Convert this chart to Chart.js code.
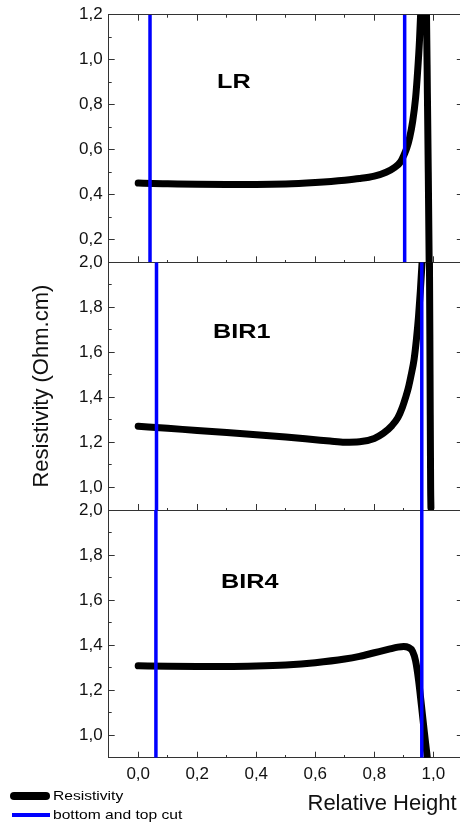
<!DOCTYPE html>
<html>
<head>
<meta charset="utf-8">
<script src="https://cdn.jsdelivr.net/npm/chart.js@4.4.0/dist/chart.umd.min.js"></script>
<style>
  html, body { margin: 0; padding: 0; background: #fff; overflow: hidden; width: 460px; height: 825px; }
  canvas.c { position: absolute; left: 0; top: 0; }
  .panel-label { position: absolute; font: bold 21px "Liberation Sans", Arial, sans-serif; line-height: 1; color: #000; transform: scaleX(1.2); transform-origin: left top; white-space: nowrap; }
  .leg-line { position: absolute; }
  .leg-text { position: absolute; font: 13px "Liberation Sans", Arial, sans-serif; line-height: 16px; color: #000; transform: scaleX(1.2); transform-origin: left center; white-space: nowrap; }
</style>
</head>
<body>
<canvas id="c0" class="c" width="470" height="825"></canvas>
<canvas id="c1" class="c" width="470" height="825"></canvas>
<canvas id="c2" class="c" width="470" height="825"></canvas>
<script>
// ---------------- data ----------------
const seriesNames = ['Resistivity', 'bottom and top cut'];
const panelNames = ['LR', 'BIR1', 'BIR4'];
const xTitle = 'Relative Height';
const yTitle = 'Resistivity (Ohm.cm)';
const xAxisMin = -0.1, xAxisMax = 1.1;
const yAxisMin = [0.1, 0.9, 0.9];
const yAxisMax = [1.2, 2.0, 2.0];
const tickStep = 0.1;

const lrHeight = [0, 0.05, 0.1, 0.2, 0.3, 0.4, 0.5, 0.6, 0.7, 0.75, 0.8, 0.84, 0.87, 0.89, 0.9, 0.91, 0.92, 0.93, 0.94, 0.947, 0.953, 0.957, 0.962, 0.967, 0.972, 0.977, 0.98, 0.983, 0.986, 0.988];
const lrRes    = [0.452, 0.450, 0.449, 0.447, 0.446, 0.446, 0.448, 0.455, 0.465, 0.472, 0.483, 0.500, 0.522, 0.548, 0.575, 0.607, 0.655, 0.725, 0.83, 0.95, 1.08, 1.2, 1.32, 1.40, 1.35, 1.2, 0.85, 0.5, 0.1, -0.2];

const bir1Height = [0, 0.1, 0.2, 0.3, 0.4, 0.5, 0.6, 0.65, 0.7, 0.75, 0.8, 0.83, 0.86, 0.88, 0.895, 0.905, 0.915, 0.925, 0.935, 0.943, 0.95, 0.956, 0.962, 0.968, 0.975, 0.981, 0.985, 0.987, 0.989, 0.991, 0.992];
const bir1Res    = [1.272, 1.263, 1.253, 1.244, 1.234, 1.224, 1.212, 1.206, 1.201, 1.203, 1.218, 1.24, 1.275, 1.31, 1.355, 1.395, 1.44, 1.50, 1.57, 1.66, 1.76, 1.87, 2.0, 2.15, 2.25, 2.2, 2.1, 2.0, 1.5, 1.0, 0.91];

const bir4Height = [0, 0.1, 0.2, 0.3, 0.4, 0.5, 0.6, 0.7, 0.75, 0.8, 0.85, 0.88, 0.9, 0.915, 0.93, 0.94, 0.95, 0.96, 0.97, 0.978, 0.984];
const bir4Res    = [1.308, 1.306, 1.305, 1.305, 1.307, 1.312, 1.322, 1.338, 1.350, 1.366, 1.382, 1.391, 1.394, 1.390, 1.372, 1.33, 1.245, 1.13, 1.01, 0.92, 0.85];

const cutBottom = [0.04, 0.062, 0.06];
const cutTop    = [0.903, 0.961, 0.961];

const curveHeights = [lrHeight, bir1Height, bir4Height];
const curveValues  = [lrRes, bir1Res, bir4Res];

// ---------------- layout / style ----------------
const W = 470, H = 825;
const plotLeft = 108.7, plotRight = 462.8;
const areaTop = [14.7, 262.3, 510];
const areaBottom = [262.3, 510, 757.7];
const FONT = '"Liberation Sans", Arial, sans-serif';
const AXIS_COLOR = '#333';
const BLUE = '#0000ff';

function isMinor(v) { return Math.abs(Math.round(v * 10)) % 2 === 1; }
function fmt(v) { return v.toFixed(1).replace('.', ','); }
function noPad(s) { s.paddingTop = 0; s.paddingBottom = 0; s.paddingLeft = 0; s.paddingRight = 0; }

function gridFor(startsInside) {
  return {
    display: true,
    drawOnChartArea: false,
    drawTicks: true,
    tickLength: -6,
    tickWidth: 1,
    tickColor: AXIS_COLOR,
    tickBorderDash: ctx => (ctx.tick && isMinor(ctx.tick.value)) ? [3, 100] : [],
    tickBorderDashOffset: ctx => (ctx.tick && isMinor(ctx.tick.value) && startsInside) ? 100 : 0
  };
}
const border = { display: true, color: AXIS_COLOR, width: 1 };

function makeChart(i) {
  const curve = curveHeights[i].map((x, k) => ({ x: x, y: curveValues[i][k] }));
  const scales = {
    x: {
      type: 'linear', position: 'bottom', min: xAxisMin, max: xAxisMax,
      ticks: {
        stepSize: tickStep, autoSkip: false, maxRotation: 0, minRotation: 0,
        display: i === 2, padding: 12, color: '#111',
        font: { family: FONT, size: 17 },
        callback: v => isMinor(v) ? '' : fmt(v)
      },
      grid: gridFor(false),
      border: border,
      title: {
        display: i === 2, text: xTitle + ' ', align: 'end', color: '#111',
        font: { family: FONT, size: 22 }, padding: { top: 0, bottom: 8 }
      },
      afterFit: s => { s.height = (i === 2) ? (H - areaBottom[2]) : 0; noPad(s); }
    },
    y: {
      type: 'linear', position: 'left', min: yAxisMin[i], max: yAxisMax[i],
      ticks: {
        stepSize: tickStep, autoSkip: false, padding: 12, color: '#111',
        font: { family: FONT, size: 17 },
        callback: v => isMinor(v) ? '' : fmt(v)
      },
      grid: gridFor(true),
      border: border,
      title: {
        display: i === 1, text: yTitle, color: '#111',
        font: { family: FONT, size: 22 }, padding: { top: 28.8, bottom: 0 }
      },
      afterFit: s => { s.width = plotLeft; noPad(s); }
    },
    y2: {
      type: 'linear', position: 'right', min: yAxisMin[i], max: yAxisMax[i],
      ticks: { stepSize: tickStep, display: false },
      grid: gridFor(false),
      border: border,
      afterFit: s => { s.width = 0; noPad(s); }
    }
  };
  if (i === 0) {
    scales.x2 = {
      type: 'linear', position: 'top', min: xAxisMin, max: xAxisMax,
      ticks: { stepSize: tickStep, display: false },
      grid: gridFor(true),
      border: border,
      afterFit: s => { s.height = 0; noPad(s); }
    };
  }
  return new Chart(document.getElementById('c' + i), {
    type: 'line',
    data: {
      datasets: [
        {
          label: seriesNames[1],
          data: [{ x: cutBottom[i], y: yAxisMin[i] }, { x: cutBottom[i], y: yAxisMax[i] }],
          borderColor: BLUE, borderWidth: 3.5, tension: 0, pointRadius: 0, clip: 0
        },
        {
          label: seriesNames[1],
          data: [{ x: cutTop[i], y: yAxisMin[i] }, { x: cutTop[i], y: yAxisMax[i] }],
          borderColor: BLUE, borderWidth: 3.5, tension: 0, pointRadius: 0, clip: 0
        },
        {
          label: seriesNames[0],
          data: curve,
          borderColor: '#000', borderWidth: 7, cubicInterpolationMode: 'monotone',
          borderCapStyle: 'round', borderJoinStyle: 'round', pointRadius: 0, clip: 0
        }
      ]
    },
    options: {
      responsive: false,
      animation: false,
      events: [],
      layout: {
        padding: {
          left: 0,
          right: W - plotRight,
          top: areaTop[i],
          bottom: (i === 2) ? 0 : (H - areaBottom[i])
        }
      },
      plugins: { legend: { display: false }, tooltip: { enabled: false }, title: { display: false } },
      scales: scales
    }
  });
}

const charts = [0, 1, 2].map(makeChart);

// nudge the layout padding so each plot area lands where the reference has it
charts.forEach((ch, i) => {
  for (let it = 0; it < 4; it++) {
    const a = ch.chartArea;
    const p = ch.options.layout.padding;
    const dt = areaTop[i] - a.top;
    const db = a.bottom - areaBottom[i];
    const dl = plotLeft - a.left;
    const dr = a.right - plotRight;
    if (Math.abs(dt) < 0.05 && Math.abs(db) < 0.05 && Math.abs(dl) < 0.05 && Math.abs(dr) < 0.05) break;
    p.top += dt;
    p.bottom += db;
    p.left += dl;
    p.right += dr;
    ch.update();
  }
});

// panel labels
const labelPos = [[216.7, 87.3], [213.3, 337.3], [220.7, 588]];
panelNames.forEach((name, i) => {
  const d = document.createElement('div');
  d.className = 'panel-label';
  d.textContent = name;
  d.style.left = labelPos[i][0] + 'px';
  d.style.top = (labelPos[i][1] - 0.8465 * 21) + 'px';
  document.body.appendChild(d);
});

// legend
const legendRows = [
  { name: seriesNames[0], color: '#000', thick: 8, x0: 10, x1: 50, cy: 796, round: true },
  { name: seriesNames[1], color: BLUE, thick: 3.5, x0: 12, x1: 49.5, cy: 815, round: false }
];
legendRows.forEach(r => {
  const ln = document.createElement('div');
  ln.className = 'leg-line';
  ln.style.left = r.x0 + 'px';
  ln.style.width = (r.x1 - r.x0) + 'px';
  ln.style.top = (r.cy - r.thick / 2) + 'px';
  ln.style.height = r.thick + 'px';
  ln.style.background = r.color;
  if (r.round) ln.style.borderRadius = (r.thick / 2) + 'px';
  document.body.appendChild(ln);
  const t = document.createElement('div');
  t.className = 'leg-text';
  t.textContent = r.name;
  t.style.left = '52.7px';
  t.style.top = (r.cy - 8) + 'px';
  document.body.appendChild(t);
});
</script>
</body>
</html>
